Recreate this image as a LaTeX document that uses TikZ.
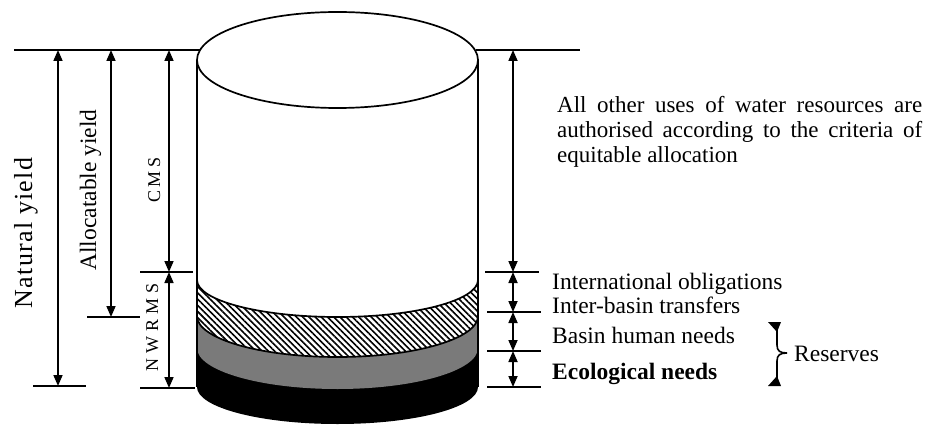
\documentclass[tikz,border=0pt]{standalone}
\usepackage{fontspec}
\setmainfont{Liberation Serif}
\usetikzlibrary{arrows.meta,patterns.meta}
\begin{document}
\begin{tikzpicture}[x=1pt,y=-1pt,
  rule/.style={line width=1.8pt},
  dim/.style={line width=1.7pt,{Triangle[length=11pt,width=9pt]}-{Triangle[length=11pt,width=9pt]}},
  outl/.style={line width=1.7pt},
  lbl/.style={inner sep=0pt,font=\fontsize{23.5}{25}\selectfont},
  vlbl/.style={inner sep=0pt,rotate=90,anchor=base},
  band/.style={start angle=180,end angle=0,x radius=140.5}]
\useasboundingbox (0,0) rectangle (926,425);

% ---- horizontal reference lines (drawn before the cylinder top)
\coordinate (Ltop0) at (14,50);   \coordinate (Ltop1) at (200,50);
\coordinate (Rtop0) at (476,50);  \coordinate (Rtop1) at (580,50);
\draw[rule] (Ltop0) -- (Ltop1);
\draw[rule] (Rtop0) -- (Rtop1);

% ---- cylinder layers
\fill[black] (197,60) -- (197,387) arc[band,y radius=37] -- (478,60) -- cycle;
\fill[black!52] (197,60) -- (197,348) arc[band,y radius=41] -- (478,60) -- cycle;
\fill[white] (197,60) -- (197,316) arc[band,y radius=41] -- (478,60) -- cycle;
\fill[pattern={Lines[angle=-45,distance=4.4pt,line width=1.6pt]}] (197,60) -- (197,316) arc[band,y radius=41] -- (478,60) -- cycle;
\fill[white] (197,60) -- (197,280) arc[band,y radius=37] -- (478,60) -- cycle;
\draw[outl] (197,280) arc[band,y radius=37];
\draw[outl] (197,316) arc[band,y radius=41];
\draw[outl] (197,60) -- (197,387);
\draw[outl] (478,60) -- (478,387);
\draw[outl,fill=white] (337.5,60) ellipse[x radius=140.5,y radius=48];

% ---- left tick lines
\coordinate (Lm0) at (140,272);  \coordinate (Lm1) at (193,272);
\coordinate (Lb0) at (140,388);  \coordinate (Lb1) at (195,388);
\coordinate (Ab0) at (87,317);   \coordinate (Ab1) at (140,317);
\coordinate (Nb0) at (33,386);   \coordinate (Nb1) at (86,386);
\draw[rule] (Lm0) -- (Lm1);
\draw[rule] (Lb0) -- (Lb1);
\draw[rule] (Ab0) -- (Ab1);
\draw[rule] (Nb0) -- (Nb1);

% ---- left dimension arrows
\coordinate (nyT) at (58,50);   \coordinate (nyB) at (58,386);
\coordinate (ayT) at (111,50);  \coordinate (ayB) at (111,317);
\coordinate (cmT) at (169,50);  \coordinate (cmB) at (169,272);
\coordinate (nwB) at (169,388);
\draw[dim] (nyT) -- (nyB);
\draw[dim] (ayT) -- (ayB);
\draw[dim] (cmT) -- (cmB);
\draw[dim] (cmB) -- (nwB);

\node[vlbl,font=\fontsize{26}{28}\selectfont\addfontfeature{LetterSpace=5}] (ny) at (32,233) {Natural yield};
\node[vlbl,font=\fontsize{23.5}{25}\selectfont] (ay) at (96,190) {Allocatable yield};
\node[vlbl,font=\fontsize{18}{20}\selectfont] (cms) at (160,180) {C\hspace{3.5pt}M\hspace{3.5pt}S};
\node[vlbl,font=\fontsize{18}{20}\selectfont] (nw) at (158,327) {N\hspace{5pt}W\hspace{5pt}R\hspace{5pt}M\hspace{5pt}S};

% ---- right tick lines
\coordinate (R1a) at (485,272); \coordinate (R1b) at (539,272);
\coordinate (R2a) at (487,312); \coordinate (R2b) at (541,312);
\coordinate (R3a) at (487,351); \coordinate (R3b) at (541,351);
\coordinate (R4a) at (487,387); \coordinate (R4b) at (541,387);
\draw[rule] (R1a) -- (R1b);
\draw[rule] (R2a) -- (R2b);
\draw[rule] (R3a) -- (R3b);
\draw[rule] (R4a) -- (R4b);

% ---- right dimension arrows
\coordinate (r0) at (513,50);
\coordinate (r1) at (513,272);
\coordinate (r2) at (513,312);
\coordinate (r3) at (513,351);
\coordinate (r4) at (513,387);
\draw[dim] (r0) -- (r1);
\draw[dim] (r1) -- (r2);
\draw[dim] (r2) -- (r3);
\draw[dim] (r3) -- (r4);

% ---- right texts
\node[anchor=base west,inner sep=0pt,text width=365pt,align=justify,font=\fontsize{23}{25}\selectfont] (other) at (557,113)
  {All other uses of water resources are\linebreak authorised according to the criteria of\linebreak equitable allocation};
\node[lbl,anchor=base west] (io) at (552,289) {International obligations};
\node[lbl,anchor=base west] (ib) at (552,313) {Inter-basin transfers};
\node[lbl,anchor=base west] (bh) at (552,343) {Basin human needs};
\node[lbl,anchor=base west,font=\fontsize{23.5}{25}\selectfont\bfseries] (ec) at (552,379) {Ecological needs};

% ---- reserves brace
\coordinate (bT) at (777,323);
\coordinate (bB) at (777,385);
\coordinate (bTip) at (787,353);
\draw[line width=1.6pt] (bT) -- (777,345) .. controls (777,351) and (780,353) .. (bTip)
  .. controls (780,353) and (777,355) .. (777,361) -- (bB);
\fill (768,322) -- (781,322) -- (777,332) -- cycle;
\fill (768,386) -- (781,386) -- (777,376) -- cycle;
\node[lbl,anchor=base west] (res) at (794,361) {Reserves};
\end{tikzpicture}
\end{document}
